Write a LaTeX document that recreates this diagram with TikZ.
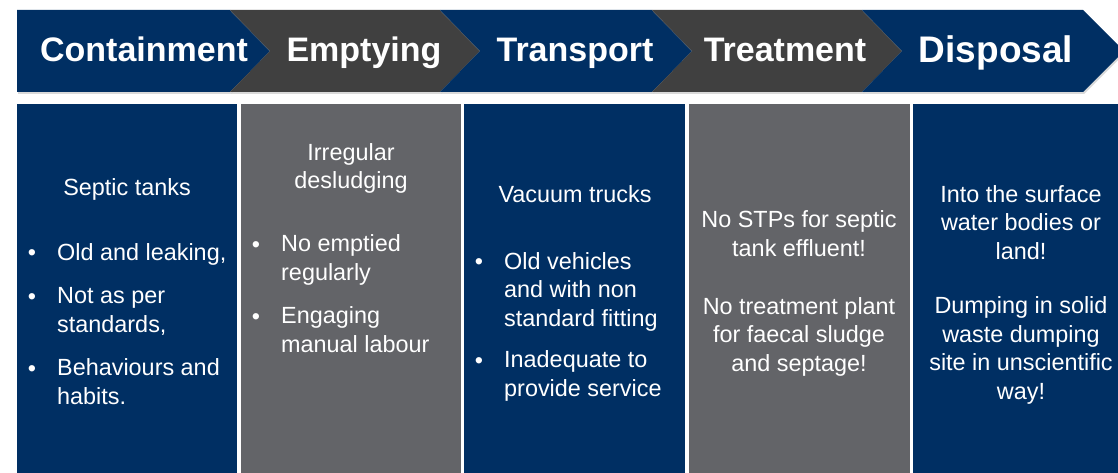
\documentclass[tikz,border=0pt]{standalone}
\usepackage{fontspec}
\setmainfont{Liberation Sans}
\usepackage{tikz}
\usetikzlibrary{positioning,shadows}
\definecolor{navy}{RGB}{0,47,99}
\definecolor{darkstep}{RGB}{64,64,64}
\definecolor{greybox}{RGB}{99,100,104}

\begin{document}
\begin{tikzpicture}[x=1pt,y=-1pt,
    chev/.style={drop shadow={opacity=0.3,shadow xshift=1pt,shadow yshift=-2pt}},
    head/.style={text=white,inner sep=0,anchor=base,font=\fontsize{34}{40}\selectfont\bfseries},
    colbox/.style={inner sep=0,anchor=north west,minimum height=370pt},
    body/.style={text=white,inner sep=0,anchor=base,align=center,font=\fontsize{23.4}{28.4}\selectfont},
    bulletmark/.style={body},
    bullettext/.style={body,anchor=base west,align=left}]
  \useasboundingbox (0,0) rectangle (1118,473);
  % process chevrons
  \fill[navy,chev] (17,10) -- (230,10) -- (270,51) -- (230,92) -- (17,92) -- cycle;
  \fill[darkstep,chev] (230,10) -- (440,10) -- (480,51) -- (440,92) -- (230,92) -- (270,51) -- cycle;
  \fill[navy,chev] (440,10) -- (652,10) -- (692,51) -- (652,92) -- (440,92) -- (480,51) -- cycle;
  \fill[darkstep,chev] (652,10) -- (862,10) -- (902,51) -- (862,92) -- (652,92) -- (692,51) -- cycle;
  \fill[navy,chev] (862,10) -- (1083,10) -- (1124,51) -- (1083,92) -- (862,92) -- (902,51) -- cycle;
  \node[head] (contain) at (144,62) {Containment};
  \node[head] (empty) at (364,62) {Emptying};
  \node[head] (transport) at (575,62) {Transport};
  \node[head] (treat) at (785,62) {Treatment};
  \node[head,font=\fontsize{37}{42}\selectfont\bfseries] (dispose) at (996,63) {Disposal};
  % columns
  \node[colbox,fill=navy,minimum width=220pt] (c1) at (17,104) {};
  \node[colbox,fill=greybox,minimum width=220pt] (c2) at (241,104) {};
  \node[colbox,fill=navy,minimum width=221pt] (c3) at (464,104) {};
  \node[colbox,fill=greybox,minimum width=221pt] (c4) at (689,104) {};
  \node[colbox,fill=navy,minimum width=205pt] (c5) at (913,104) {};
  % containment (multi-line texts sit on their last baseline)
  \node[body] (tanks) at (127,195) {Septic tanks};
  \node[bulletmark] (b11) at (32,260) {\textbullet};
  \node[bullettext] (t11) at (57,260) {Old and leaking,};
  \node[bulletmark] (b12) at (32,304) {\textbullet};
  \node[bullettext] (t12) at (57,332) {Not as per\\standards,};
  \node[bulletmark] (b13) at (32,376) {\textbullet};
  \node[bullettext] (t13) at (57,404) {Behaviours and\\habits.};
  % emptying
  \node[body] (irreg) at (351,189) {Irregular\\desludging};
  \node[bulletmark] (b21) at (256,252) {\textbullet};
  \node[bullettext] (t21) at (281,280) {No emptied\\regularly};
  \node[bulletmark] (b22) at (256,324) {\textbullet};
  \node[bullettext] (t22) at (281,352) {Engaging\\manual labour};
  % transport
  \node[body] (trucks) at (575,203) {Vacuum trucks};
  \node[bulletmark] (b31) at (479,269) {\textbullet};
  \node[bullettext] (t31) at (504,326) {Old vehicles\\and with non\\standard fitting};
  \node[bulletmark] (b32) at (479,368) {\textbullet};
  \node[bullettext] (t32) at (504,396) {Inadequate to\\provide service};
  % treatment
  \node[body] (stp) at (799,256) {No STPs for septic\\tank effluent!};
  \node[body] (plant) at (799,371) {No treatment plant\\for faecal sludge\\and septage!};
  % disposal
  \node[body] (surface) at (1021,259) {Into the surface\\water bodies or\\land!};
  \node[body] (dumping) at (1021,399) {Dumping in solid\\waste dumping\\site in unscientific\\way!};
\end{tikzpicture}
\end{document}
